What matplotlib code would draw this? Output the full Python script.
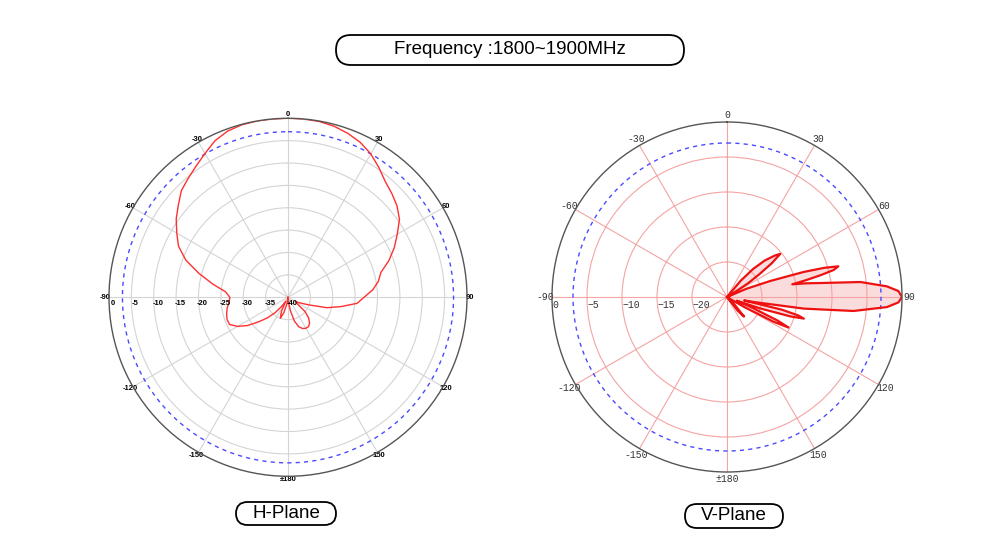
import numpy as np
import matplotlib.pyplot as plt
from matplotlib.patches import FancyBboxPatch

plt.rcParams['font.family'] = ['Liberation Sans', 'DejaVu Sans']

# H-Plane pattern: angle (deg, clockwise from top) and gain (dB)
h_angle = [-180, -175, -170, -165, -160, -155, -150, -145, -140, -135,
           -130, -125, -120, -115, -110, -105, -100, -95, -90, -85,
           -80, -75, -70, -65, -60, -55, -50, -45, -40, -35,
           -30, -25, -20, -15, -10, -5, 0, 5, 10, 15,
           20, 25, 30, 35, 40, 45, 50, 55, 60, 65,
           70, 75, 80, 85, 90, 95, 100, 105, 110, 115,
           120, 125, 130, 135, 140, 145, 150, 155, 160, 165,
           170, 175, 180]
h_gain = [-40, -39.5, -38.5, -36.5, -35, -36.5, -39, -37.5, -35.5, -33.5,
          -31.5, -29, -27, -25.6, -25.5, -25.8, -26.2, -26.8, -27, -26,
          -22.9, -19.4, -15.7, -13.0, -11.3, -9.5, -8.0, -6.3, -5.3, -4.2,
          -2.9, -1.4, -0.5, -0.1, 0, 0, 0, 0, -0.1, -0.4,
          -1.0, -1.8, -3.0, -4.6, -6.2, -7.2, -8.2, -9.6, -11.8, -13.8,
          -16, -18.5, -19.5, -21, -23, -24.5, -28, -31, -35, -37,
          -38, -37.5, -35, -33.5, -32.5, -32, -32, -32.3, -33, -34.5,
          -37, -39, -40]

# V-Plane pattern
v_angle = [0, 38, 40, 43, 46, 49, 51, 53, 55, 57,
           60, 64, 67, 69.7, 71.9, 73.3, 74.6, 75.8, 76.9, 78,
           79, 80.2, 81.5, 83.6, 86.2, 88, 90, 91.8, 93.6, 96.3,
           98.6, 100.5, 101.5, 103, 104.5, 105.7, 107, 109, 111, 113,
           115, 116.4, 118, 120, 122, 130, 135, 139, 142, 146,
           180, 270, 360]
v_gain = [-25, -25, -22, -19.5, -17.5, -16, -15.2, -17, -19.5, -21.5,
          -24.5, -25, -22, -18.4, -13.5, -10.5, -8.5, -9.3, -11.3, -13.5,
          -15.5, -13.5, -11.5, -5.8, -2.1, -0.5, 0, -0.5, -2.1, -6.8,
          -13.9, -21, -22.5, -17, -14.5, -13.6, -15.5, -20, -23.5, -21,
          -17, -15.2, -17.5, -22, -24.5, -25, -23.5, -21.3, -22.5, -25,
          -25, -25, -25]

angle_ticks = [0, 30, 60, 90, 120, 150, 180, 210, 240, 270, 300, 330]
angle_labels = ['0', '30', '60', '90', '120', '150', '\u00b1180',
                '-150', '-120', '-90', '-60', '-30']
h_rings = [0, -5, -10, -15, -20, -25, -30, -35, -40]
v_rings = [0, -5, -10, -15, -20]
half_power = -3

fig = plt.figure(figsize=(10, 5.5), dpi=100)

# ---- H-Plane ----
ax1 = fig.add_axes([0.109, 0.134, 0.358, 0.651], projection='polar')
ax1.set_theta_zero_location('N')
ax1.set_theta_direction(-1)
ax1.set_rlim(-40, 0)
ax1.set_rgrids(h_rings[1:-1], labels=[''] * (len(h_rings) - 2))
ax1.set_thetagrids(angle_ticks, angle_labels, fontsize=5.5, fontweight='bold')
ax1.tick_params(axis='x', pad=-8)
ax1.grid(color='#d4d4d4', lw=0.8)
ax1.spines['polar'].set_color('#555555')
ax1.spines['polar'].set_linewidth(1.0)
circ = np.linspace(0, 2 * np.pi, 361)
ax1.plot(circ, np.full_like(circ, half_power), color='#4a4aff', lw=1.0, dashes=(3, 3))
ax1.plot(np.deg2rad(h_angle), h_gain, color='#ff3030', lw=1.0)
for r in h_rings:
    ax1.annotate(str(r), xy=(np.deg2rad(270), r), xytext=(3, -2),
                 textcoords='offset points', ha='center', va='top',
                 fontsize=5.5, fontweight='bold')

# ---- V-Plane ----
ax2 = fig.add_axes([0.552, 0.1418, 0.35, 0.6364], projection='polar')
ax2.set_theta_zero_location('N')
ax2.set_theta_direction(-1)
ax2.set_rlim(-25, 0)
ax2.set_rgrids(v_rings[1:], labels=[''] * (len(v_rings) - 1))
ax2.set_thetagrids(angle_ticks, angle_labels, fontsize=7,
                   family='Liberation Mono', color='#333333')
ax2.tick_params(axis='x', pad=-5.5)
ax2.grid(color='#f4a4a4', lw=0.8)
ax2.spines['polar'].set_color('#555555')
ax2.spines['polar'].set_linewidth(1.0)
ax2.plot(circ, np.full_like(circ, half_power), color='#4a4aff', lw=1.0, dashes=(3, 3))
ax2.fill(np.deg2rad(v_angle), v_gain, color='#fbd6d6', alpha=0.85, lw=0)
ax2.plot(np.deg2rad(v_angle), v_gain, color='#ee1111', lw=1.6)
for r in v_rings:
    ax2.annotate(str(r).replace('-', '\u2212'), xy=(np.deg2rad(270), r),
                 xytext=(0, -2), textcoords='offset points', ha='left', va='top',
                 fontsize=7, family='Liberation Mono', color='#333333')

# rounded label boxes
def label_box(x0, y0, w, h, text):
    box = FancyBboxPatch((x0, y0), w, h, boxstyle=f'round,pad=0,rounding_size={h / 2}',
                         transform=fig.dpi_scale_trans, fc='white', ec='black', lw=1.3)
    fig.add_artist(box)
    fig.text((x0 + w / 2) / 10, (y0 + h / 2) / 5.5, text, ha='center', va='center',
             fontsize=13.5)

label_box(3.36, 4.85, 3.48, 0.30, 'Frequency :1800~1900MHz')
label_box(2.36, 0.25, 1.00, 0.23, 'H-Plane')
label_box(6.85, 0.22, 0.98, 0.24, 'V-Plane')

fig.savefig('out.png', dpi=100)
